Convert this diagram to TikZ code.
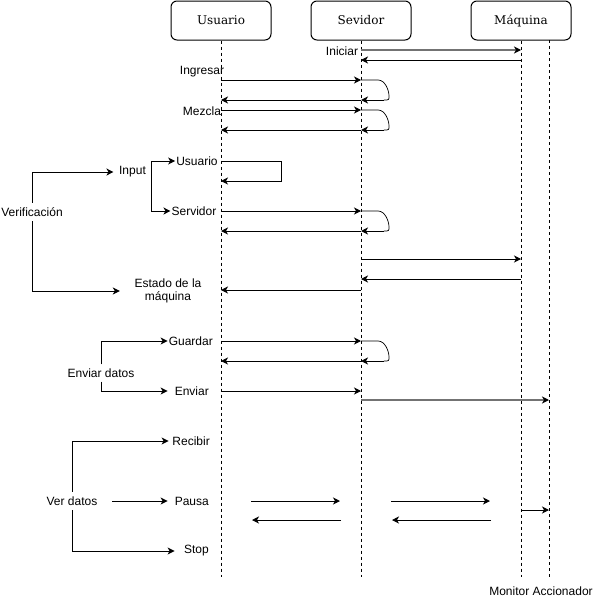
\documentclass[tikz,border=0pt]{standalone}
\usepackage{fontspec}
\setmainfont{Liberation Sans}
\newfontfamily\boxfont{DejaVu Serif}
\usetikzlibrary{arrows.meta}
\begin{document}
\begin{tikzpicture} [
                x=1pt, y=-1pt,
                actor/.style = {draw, line width=1pt, rounded corners=6pt, minimum width=100pt, minimum height=39pt,
                                font=\boxfont\fontsize{12}{14}\selectfont},
                lifeline/.style = {draw, line width=1pt, dash pattern=on 3pt off 3pt},
                msg/.style = {draw, line width=1pt, -{Stealth[length=7pt,width=7pt,inset=2pt]}},
                gray msg/.style = {msg, draw=black!55, line width=1.5pt,
                                   -{Stealth[length=7pt,width=7pt,inset=2pt,color=black]}},
                selfloop/.style = {draw, line width=0.7pt},
                label/.style = {font=\fontsize{12}{13.5}\selectfont, inner sep=1pt},
                head/.style = {label, minimum height=18pt},
                opt/.style = {label, text width=40pt, align=right, anchor=east},
            ]
            \useasboundingbox (0,0) rectangle (595,597);
            % First we draw the actors and their lifelines
            \foreach \pos/\name/\txt in {
                    {(221,20.5)/usr/Usuario}, {(361,20.5)/srv/Sevidor}, {(521,20.5)/maq/Máquina}}
                \node[actor] (\name) at \pos {\txt};
            \coordinate (acc) at (549,40);
            \foreach \name in {usr, srv, maq}
                \path[lifeline] (\name.south) -- (\name |- 0,577);
            \path[lifeline] (acc) -- (acc |- 0,577);
            % Messages between lifelines
            \foreach \y/\from/\to in {
                    60/maq/srv, 80/usr/srv, 100/srv/usr, 110/usr/srv, 130/srv/usr,
                    211/usr/srv, 231/srv/usr, 259/srv/maq, 279/maq/srv, 290/srv/usr,
                    341/usr/srv, 361/srv/usr, 391/usr/srv}
                \path[msg] (\from |- 0,\y) -- (\to |- 0,\y);
            \path[gray msg] (srv |- 0,50) -- (maq |- 0,50);
            \path[gray msg] (srv |- 0,400) -- (acc |- 0,400);
            \path[msg] (maq |- 0,510) -- (acc |- 0,510);
            % Self calls
            \foreach \y in {80,110,211,341} {
                \begin{scope}[shift={(srv |- 0,\y)}]
                    \path[selfloop] (0,0) -- (17,0) .. controls (24,0) and (28,10) .. (28,16)
                        .. controls (28,20) .. (23,20);
                    \path[msg] (23,20) -- (0,20);
                \end{scope}
            }
            \path[msg] (usr |- 0,161) -| (281,181) -- (usr |- 0,181);
            % Loose arrows
            \coordinate (a1) at (251,501);
            \coordinate (a2) at (340,501);
            \coordinate (b1) at (341,520);
            \coordinate (b2) at (252,520);
            \coordinate (c1) at (391,501);
            \coordinate (c2) at (490,501);
            \coordinate (d1) at (491,520);
            \coordinate (d2) at (392,520);
            \path[msg] (a1) -- (a2);
            \path[msg] (b1) -- (b2);
            \path[msg] (c1) -- (c2);
            \path[msg] (d1) -- (d2);
            % Labels
            \node[label] (iniciar) at (342,51) {Iniciar};
            \node[label] (ingresar) at (202,72) {Ingresar};
            \node[label] (mezcla) at (202,111) {Mezcla};
            \node[head] (verif) at (32,212) {Verificación};
            \node[label, inner xsep=5.5pt] (input) at (132.5,172) {Input};
            \node[label] (ulbl) at (197,161) {Usuario};
            \node[label] (slbl) at (194,211) {Servidor};
            \node[label, align=center, minimum width=96pt] (estado) at (168,291) {Estado de la\\máquina};
            \node[head, minimum height=17pt] (envd) at (101,373) {Enviar datos};
            \node[opt] (guardar) at (210,341) {Guardar};
            \node[opt] (enviar) at (210,391) {Enviar};
            \node[head, minimum width=80pt] (verd) at (72,501) {Ver datos};
            \node[opt] (recibir) at (211,441) {Recibir};
            \node[opt] (pausa) at (210,501) {Pausa};
            \node[opt, text width=33pt] (stop) at (210,551) {Stop};
            \node[label] (monitor) at (541,591) {Monitor Accionador};
            % Branches from the menus
            \path[msg] (verif.north) |- (input.west);
            \path[msg] (verif.south) |- (estado.west);
            \path[msg] (input.east) |- (ulbl.west);
            \path[msg] (input.east) |- (slbl.west);
            \path[msg] (envd.north) |- (guardar.west);
            \path[msg] (envd.south) |- (enviar.west);
            \path[msg] (verd.north) |- (recibir.west);
            \path[msg] (verd.east) -- (pausa.west);
            \path[msg] (verd.south) |- (stop.west);
        \end{tikzpicture}
\end{document}
